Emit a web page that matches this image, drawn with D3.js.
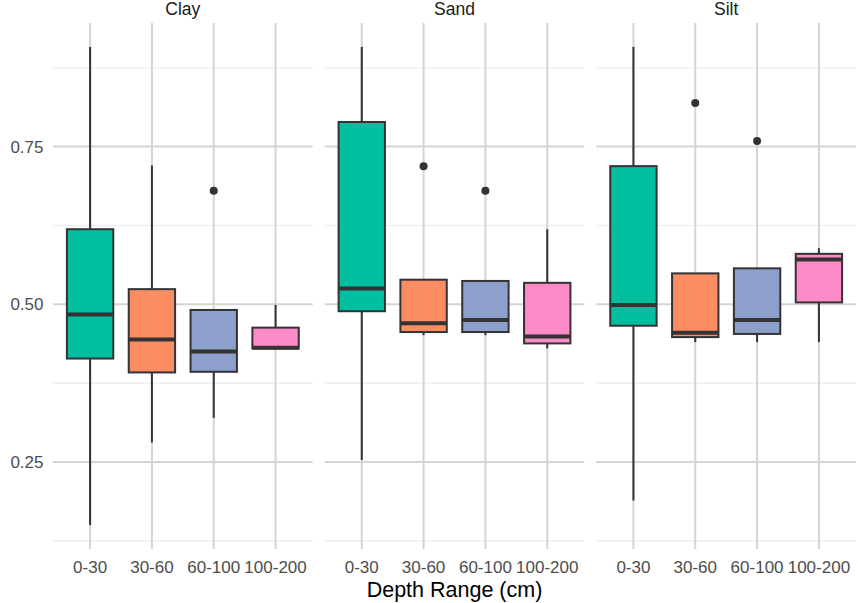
<!DOCTYPE html>
<html>
<head>
<meta charset="utf-8">
<script src="https://cdn.jsdelivr.net/npm/d3@7"></script>
<style>
  html, body { margin: 0; padding: 0; background: #ffffff; }
  svg { display: block; font-family: "Liberation Sans", Arial, sans-serif; }
</style>
</head>
<body>
<svg id="chart" width="858" height="603"></svg>
<script>
// ---- data ----
const facets = ["Clay", "Sand", "Silt"];
const depths = ["0-30", "30-60", "60-100", "100-200"];
const fillColors = ["#00BFA0", "#FC8D62", "#8DA0CB", "#FF8AC8"];

// per-facet summaries, in the order of depths
const clayLower  = [0.150, 0.281, 0.320, 0.430];
const clayQ1     = [0.414, 0.392, 0.393, 0.430];
const clayMedian = [0.484, 0.444, 0.425, 0.431];
const clayQ3     = [0.619, 0.524, 0.491, 0.463];
const clayUpper  = [0.908, 0.720, 0.491, 0.499];
const clayOutliers = [[], [], [0.680], []];

const sandLower  = [0.253, 0.451, 0.451, 0.430];
const sandQ1     = [0.489, 0.456, 0.456, 0.438];
const sandMedian = [0.525, 0.470, 0.475, 0.449];
const sandQ3     = [0.789, 0.539, 0.537, 0.534];
const sandUpper  = [0.908, 0.539, 0.537, 0.619];
const sandOutliers = [[], [0.719], [0.680], []];

const siltLower  = [0.189, 0.440, 0.440, 0.440];
const siltQ1     = [0.466, 0.448, 0.453, 0.503];
const siltMedian = [0.499, 0.455, 0.475, 0.571];
const siltQ3     = [0.719, 0.549, 0.557, 0.580];
const siltUpper  = [0.908, 0.549, 0.557, 0.589];
const siltOutliers = [[], [0.819], [0.759], []];

const yTicks = [0.25, 0.50, 0.75];
const yMinorTicks = [0.125, 0.375, 0.625, 0.875];
const xTitle = "Depth Range (cm)";

// build table
const summaries = {
  Clay: [clayLower, clayQ1, clayMedian, clayQ3, clayUpper, clayOutliers],
  Sand: [sandLower, sandQ1, sandMedian, sandQ3, sandUpper, sandOutliers],
  Silt: [siltLower, siltQ1, siltMedian, siltQ3, siltUpper, siltOutliers]
};
const boxes = [];
facets.forEach(f => {
  const [lo, q1, md, q3, hi, out] = summaries[f];
  depths.forEach((d, i) => {
    boxes.push({facet: f, depth: d, i, lo: lo[i], q1: q1[i], med: md[i], q3: q3[i], hi: hi[i], out: out[i]});
  });
});

// ---- layout ----
const svg = d3.select("#chart");
const plotLeft = 53, plotRight = 856, plotTop = 23, plotBottom = 549;

const allVals = boxes.flatMap(b => [b.lo, b.hi, ...b.out]);
const yMin = d3.min(allVals), yMax = d3.max(allVals);
const pad = (yMax - yMin) * 0.05;
const y = d3.scaleLinear().domain([yMin - pad, yMax + pad]).range([plotBottom, plotTop]);

const fx = d3.scaleBand().domain(facets).range([plotLeft, plotRight]).paddingInner(0.0442).paddingOuter(0);
const color = d3.scaleOrdinal().domain(depths).range(fillColors);

const textGrey = "#4D4D4D";

facets.forEach(f => {
  const x0 = fx(f), x1 = x0 + fx.bandwidth();
  const x = d3.scalePoint().domain(depths).range([x0, x1]).padding(0.6);
  const step = x.step();
  const g = svg.append("g");

  // minor grid
  g.selectAll("line.minor").data(yMinorTicks).join("line")
    .attr("x1", x0).attr("x2", x1)
    .attr("y1", d => y(d)).attr("y2", d => y(d))
    .attr("stroke", "#EBEBEB").attr("stroke-width", 1.1);
  // major horizontal grid
  g.selectAll("line.majorh").data(yTicks).join("line")
    .attr("x1", x0).attr("x2", x1)
    .attr("y1", d => y(d)).attr("y2", d => y(d))
    .attr("stroke", "#D4D4D4").attr("stroke-width", 2);
  // vertical grid
  g.selectAll("line.majorv").data(depths).join("line")
    .attr("x1", d => x(d)).attr("x2", d => x(d))
    .attr("y1", plotTop).attr("y2", plotBottom)
    .attr("stroke", "#D4D4D4").attr("stroke-width", 2);

  // strip label
  svg.append("text")
    .attr("x", (x0 + x1) / 2).attr("y", 14.5)
    .attr("text-anchor", "middle")
    .attr("font-size", 17.5).attr("fill", "#1A1A1A")
    .text(f);

  // x tick labels
  g.selectAll("text.xt").data(depths).join("text")
    .attr("x", d => x(d)).attr("y", 572.5)
    .attr("text-anchor", "middle")
    .attr("font-size", 17).attr("fill", textGrey)
    .text(d => d);

  const bw = step * 0.75;
  const data = boxes.filter(b => b.facet === f);
  const bg = g.selectAll("g.box").data(data).join("g");
  // whiskers
  bg.append("line")
    .attr("x1", d => x(d.depth)).attr("x2", d => x(d.depth))
    .attr("y1", d => y(d.hi)).attr("y2", d => y(d.q3))
    .attr("stroke", "#333333").attr("stroke-width", 2);
  bg.append("line")
    .attr("x1", d => x(d.depth)).attr("x2", d => x(d.depth))
    .attr("y1", d => y(d.q1)).attr("y2", d => y(d.lo))
    .attr("stroke", "#333333").attr("stroke-width", 2);
  // box
  bg.append("rect")
    .attr("x", d => x(d.depth) - bw / 2).attr("width", bw)
    .attr("y", d => y(d.q3)).attr("height", d => Math.max(0.5, y(d.q1) - y(d.q3)))
    .attr("fill", d => color(d.depth))
    .attr("stroke", "#333333").attr("stroke-width", 2);
  // median
  bg.append("line")
    .attr("x1", d => x(d.depth) - bw / 2).attr("x2", d => x(d.depth) + bw / 2)
    .attr("y1", d => y(d.med)).attr("y2", d => y(d.med))
    .attr("stroke", "#333333").attr("stroke-width", 4);
  // outliers
  bg.selectAll("circle").data(d => d.out.map(v => ({depth: d.depth, v}))).join("circle")
    .attr("cx", d => x(d.depth)).attr("cy", d => y(d.v))
    .attr("r", 4).attr("fill", "#333333");
});

// y tick labels
svg.selectAll("text.yt").data(yTicks).join("text")
  .attr("x", 43.5).attr("y", d => y(d))
  .attr("dy", "0.35em")
  .attr("text-anchor", "end")
  .attr("font-size", 17).attr("fill", textGrey)
  .text(d => d3.format(".2f")(d));

// x axis title
svg.append("text")
  .attr("x", (plotLeft + plotRight) / 2).attr("y", 596.5)
  .attr("text-anchor", "middle")
  .attr("font-size", 21.5).attr("fill", "#000000")
  .text(xTitle);
</script>
</body>
</html>
